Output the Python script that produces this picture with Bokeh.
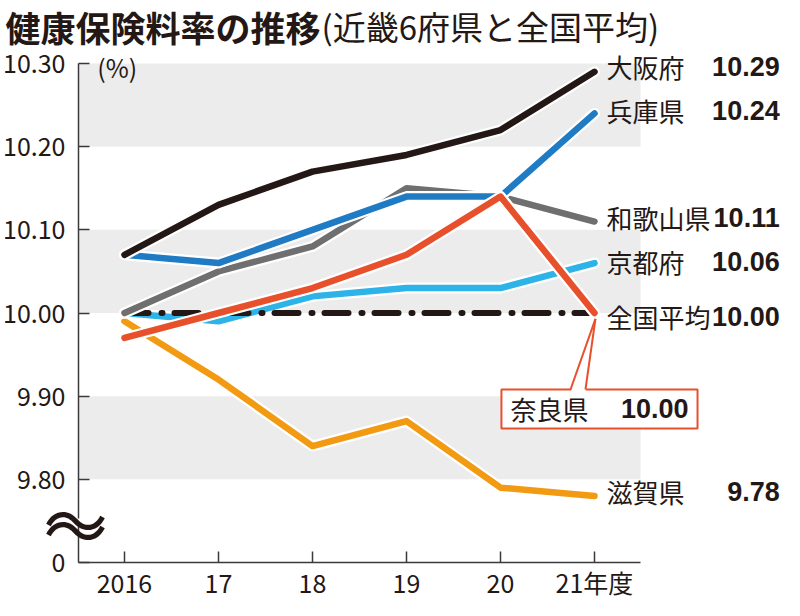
from bokeh.plotting import figure
from bokeh.models import Range1d, FixedTicker, Label, BoxAnnotation
from bokeh.core.properties import value
from bokeh.embed import file_html
from bokeh.resources import INLINE

# 健康保険料率 (%)
years = [2016, 2017, 2018, 2019, 2020, 2021]
year_labels = ["2016", "17", "18", "19", "20", "21年度"]

osaka = [10.07, 10.13, 10.17, 10.19, 10.22, 10.29]
hyogo = [10.07, 10.06, 10.10, 10.14, 10.14, 10.24]
wakayama = [10.00, 10.05, 10.08, 10.15, 10.14, 10.11]
kyoto = [10.00, 9.99, 10.02, 10.03, 10.03, 10.06]
zenkoku = [10.00, 10.00, 10.00, 10.00, 10.00, 10.00]
nara = [9.97, 10.00, 10.03, 10.07, 10.14, 10.00]
shiga = [9.99, 9.92, 9.84, 9.87, 9.79, 9.78]

y_ticks = [9.7, 9.8, 9.9, 10.0, 10.1, 10.2, 10.3]
y_tick_labels = ["0", "9.80", "9.90", "10.00", "10.10", "10.20", "10.30"]
band_bottoms = [9.8, 10.0, 10.2]

INK = "#231815"
AXIS = "#3a3a3a"
RED = "#e8502c"
JP_FONT = "Noto Sans CJK JP"

# frame covers the whole canvas, axes are pinned inside it
XPX = 94
YPX = (562 - 63) / 0.6
X0 = 2016 - 124 / XPX
X1 = X0 + 784 / XPX
XA = X0 + 78 / XPX          # where the y axis sits
Y1 = 10.30 + 63 / YPX
Y0 = Y1 - 600 / YPX
BAND_END = 2021.49

p = figure(width=784, height=600, output_backend="svg", toolbar_location=None,
           x_range=Range1d(X0, X1), y_range=Range1d(Y0, Y1),
           min_border=0)
p.background_fill_color = "white"
p.border_fill_color = "white"
p.outline_line_color = None
p.grid.visible = False

# axes
p.xaxis.fixed_location = 9.7
p.yaxis.fixed_location = XA
p.xaxis.ticker = FixedTicker(ticks=years)
p.xaxis.major_label_overrides = dict(zip(years, year_labels))
p.xaxis.bounds = (XA, BAND_END)
p.yaxis.ticker = FixedTicker(ticks=y_ticks)
p.yaxis.major_label_overrides = dict(zip(y_ticks, y_tick_labels))
p.yaxis.bounds = (9.7, 10.3)
for ax in (p.xaxis, p.yaxis):
    ax.axis_line_color = AXIS
    ax.axis_line_width = 1.5
    ax.major_tick_line_color = AXIS
    ax.major_tick_line_width = 1.5
    ax.major_tick_in = 11
    ax.major_tick_out = 0
    ax.minor_tick_line_color = None
    ax.major_label_text_font = JP_FONT
    ax.major_label_text_font_size = "25px"
    ax.major_label_text_color = INK
p.xaxis.major_label_standoff = 1
p.yaxis.major_label_standoff = 13

# gray bands
p.quad(left=XA, right=BAND_END, bottom=band_bottoms,
       top=[b + 0.1 for b in band_bottoms], fill_color="#ececec", line_color=None)

series = [
    (shiga, "#f29a12"),
    (kyoto, "#2db3e8"),
    (None, None),
    (wakayama, "#6f6f6f"),
    (hyogo, "#1f7bc4"),
    (osaka, INK),
    (nara, RED),
]
for vals, col in series:
    if vals is None:
        p.line(years, zenkoku, line_color=INK, line_width=6, line_dash="24 13 1 12",
               line_cap="round")
        continue
    p.line(years, vals, line_color="white", line_width=11, line_cap="round", line_join="round")
    p.line(years, vals, line_color=col, line_width=6.5, line_cap="round", line_join="round")

# right labels
names = ["大阪府", "兵庫県", "和歌山県", "京都府", "全国平均", "滋賀県"]
ends = [osaka[-1], hyogo[-1], wakayama[-1], kyoto[-1], zenkoku[-1], shiga[-1]]
nudge = [0.006, 0.003, 0.005, 0.002, -0.004, 0.005]
label_y = [v + d for v, d in zip(ends, nudge)]
p.text(x=[2021.128] * len(names), y=label_y, text=names, text_font=value(JP_FONT),
       text_font_size="26px", text_color=INK, text_align="left", text_baseline="middle")
p.text(x=[2022.97] * len(names), y=label_y, text=[f"{v:.2f}" for v in ends],
       text_font=value("Liberation Sans"), text_font_style="bold",
       text_font_size="27px", text_color=INK, text_align="right", text_baseline="middle")

# 奈良県 callout
p.quad(left=2020.01, right=2022.096, bottom=9.861, top=9.908,
       fill_color="white", line_color=RED, line_width=2)
p.patch([2020.745, 2021.01, 2020.904], [9.905, 9.993, 9.905], fill_color="white", line_color=None)
p.multi_line([[2020.745, 2021.01], [2020.904, 2021.01]], [[9.908, 9.993], [9.908, 9.993]],
             line_color=RED, line_width=2)
p.text(x=[2020.106], y=[9.885], text=["奈良県"], text_font=value(JP_FONT),
       text_font_size="26px", text_color=INK, text_align="left", text_baseline="middle")
p.text(x=[2022.0], y=[9.885], text=[f"{nara[-1]:.2f}"], text_font=value("Liberation Sans"),
       text_font_style="bold", text_font_size="27px", text_color=INK,
       text_align="right", text_baseline="middle")

# unit
p.text(x=[XA + 0.2], y=[10.296], text=["(%)"], text_font=value(JP_FONT),
       text_font_size="25px", text_color=INK, text_align="left", text_baseline="middle")

# axis break
p.add_layout(BoxAnnotation(left=XA - 0.05, right=XA + 0.05, bottom=9.745, top=9.753,
                           fill_color="white", fill_alpha=1, line_color=None, level="overlay"))
for yy in (9.755, 9.743):
    p.add_layout(Label(x=XA - 3 / XPX, y=yy, text="〜", text_font=JP_FONT,
                       text_font_size="64px", text_color=INK, text_align="center",
                       text_baseline="middle", level="overlay"))

# title
p.add_layout(Label(x=X0 + 5 / XPX, y=Y1, text="健康保険料率の推移", text_font=JP_FONT,
                   text_font_size="35px", text_font_style="bold", text_color=INK,
                   text_baseline="top"))
p.add_layout(Label(x=X0 + 321 / XPX, y=Y1 - 1 / YPX, text="(近畿6府県と全国平均)",
                   text_font=JP_FONT, text_font_size="33px", text_color=INK,
                   text_baseline="top"))

open("out.html", "w").write(file_html(p, INLINE))
